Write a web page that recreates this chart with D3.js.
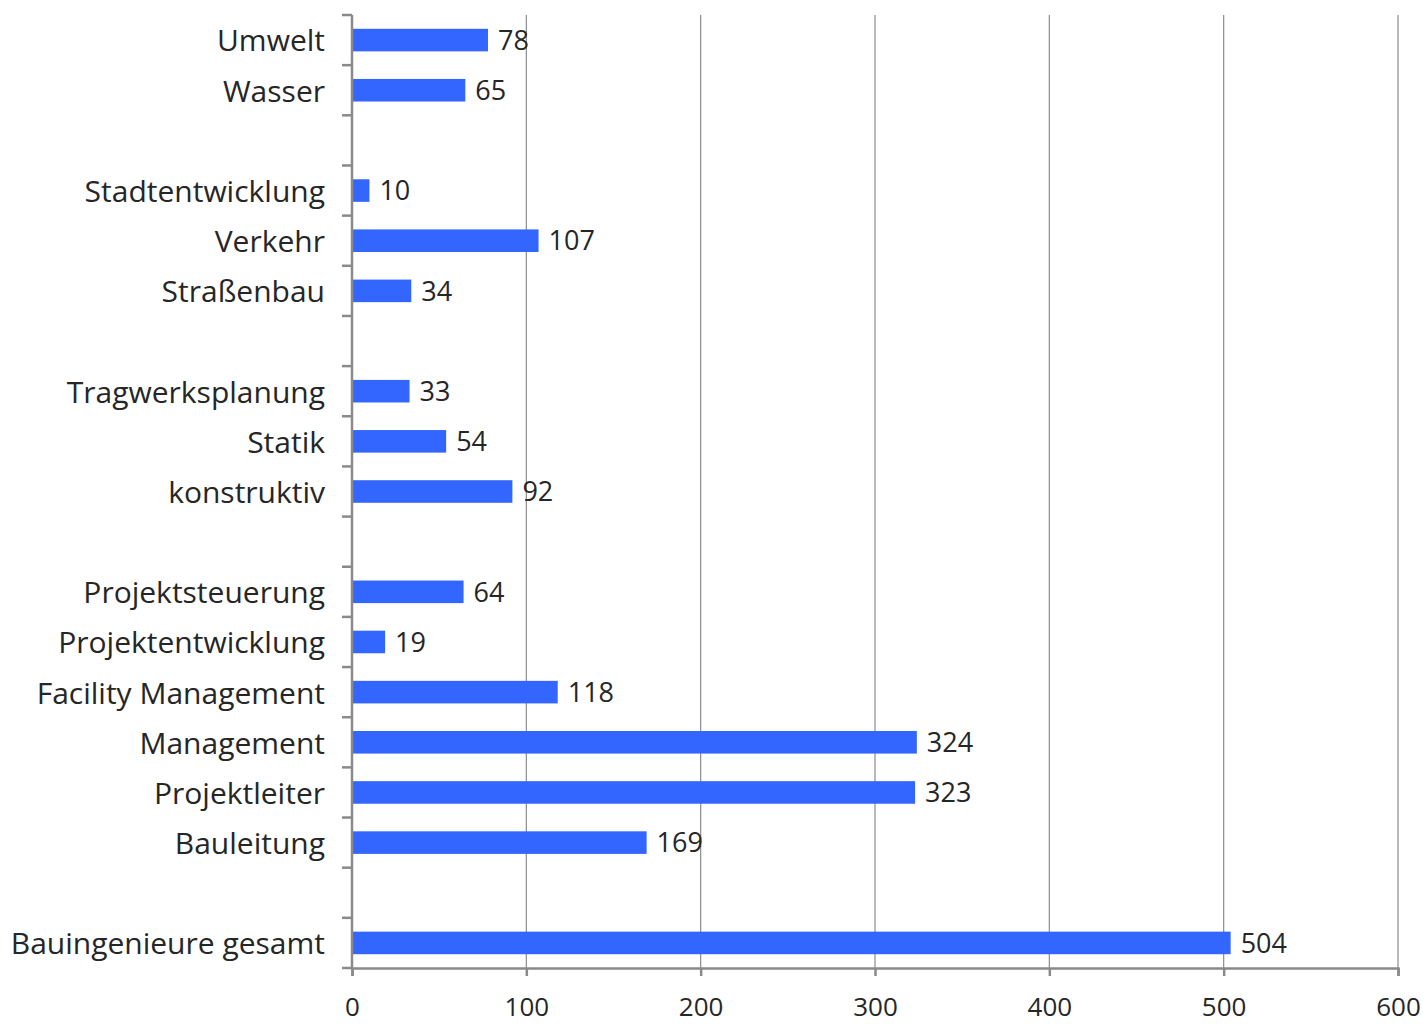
<!DOCTYPE html>
<html>
<head>
<meta charset="utf-8">
<script src="https://cdn.jsdelivr.net/npm/d3@7"></script>
<style>
  html, body { margin: 0; padding: 0; background: #fff; }
  svg { display: block; }
</style>
</head>
<body>
<svg id="chart" width="1423" height="1024"></svg>
<script>
const categories = ["Umwelt","Wasser","","Stadtentwicklung","Verkehr","Straßenbau","","Tragwerksplanung","Statik","konstruktiv","","Projektsteuerung","Projektentwicklung","Facility Management","Management","Projektleiter","Bauleitung","","Bauingenieure gesamt"];
const values = [78,65,null,10,107,34,null,33,54,92,null,64,19,118,324,323,169,null,504];
const xTickValues = [0,100,200,300,400,500,600];

const W = 1423, H = 1024;
const margin = { left: 352, right: 25, top: 15, bottom: 56 };
const plotRight = W - margin.right;
const plotBottom = H - margin.bottom;

const svg = d3.select("#chart");
const font = "'Open Sans', 'DejaVu Sans', sans-serif";
const axisColor = "#8a8a8a";
const textColor = "#262626";

const x = d3.scaleLinear().domain([0, 600]).range([margin.left, plotRight]);
const idx = d3.range(categories.length);
const y = d3.scaleBand().domain(idx).range([margin.top, plotBottom]).padding(0);
const barH = y.bandwidth() * 0.45;

// gridlines
svg.append("g").selectAll("line")
  .data(xTickValues.filter(d => d > 0))
  .join("line")
  .attr("x1", d => x(d)).attr("x2", d => x(d))
  .attr("y1", margin.top).attr("y2", plotBottom)
  .attr("stroke", "#8c8c8c").attr("stroke-width", 1.2);

// bars
const data = idx.filter(i => values[i] != null).map(i => ({ i, v: values[i] }));
svg.append("g").selectAll("rect")
  .data(data)
  .join("rect")
  .attr("x", x(0))
  .attr("y", d => y(d.i) + (y.bandwidth() - barH) / 2)
  .attr("width", d => x(d.v) - x(0))
  .attr("height", barH)
  .attr("fill", "#3366ff");

// value labels
svg.append("g").selectAll("text")
  .data(data)
  .join("text")
  .attr("x", d => x(d.v) + 10)
  .attr("y", d => y(d.i) + y.bandwidth() / 2)
  .attr("dy", "0.36em")
  .attr("font-family", font)
  .attr("font-size", 27)
  .attr("fill", textColor)
  .text(d => d.v);

// x axis
const xAxis = svg.append("g")
  .attr("transform", `translate(0,${plotBottom})`)
  .call(d3.axisBottom(x).tickValues(xTickValues).tickSize(8).tickPadding(22));
xAxis.select(".domain").attr("stroke", axisColor).attr("stroke-width", 2.5);
xAxis.selectAll(".tick line").attr("stroke", axisColor).attr("stroke-width", 2.5);
xAxis.selectAll(".tick text")
  .attr("font-family", font).attr("font-size", 26).attr("fill", textColor);

// y axis line
svg.append("line")
  .attr("x1", margin.left).attr("x2", margin.left)
  .attr("y1", margin.top).attr("y2", plotBottom)
  .attr("stroke", axisColor).attr("stroke-width", 2.5);

// y ticks at band boundaries
const boundaries = idx.map(i => y(i)).concat([plotBottom]);
svg.append("g").selectAll("line")
  .data(boundaries)
  .join("line")
  .attr("x1", margin.left - 10).attr("x2", margin.left)
  .attr("y1", d => d).attr("y2", d => d)
  .attr("stroke", axisColor).attr("stroke-width", 2.5);

// category labels
svg.append("g").selectAll("text")
  .data(idx.filter(i => categories[i] !== ""))
  .join("text")
  .attr("x", margin.left - 27)
  .attr("y", i => y(i) + y.bandwidth() / 2)
  .attr("dy", "0.38em")
  .attr("text-anchor", "end")
  .attr("font-family", font)
  .attr("font-size", 30)
  .attr("fill", textColor)
  .text(i => categories[i]);
</script>
</body>
</html>
